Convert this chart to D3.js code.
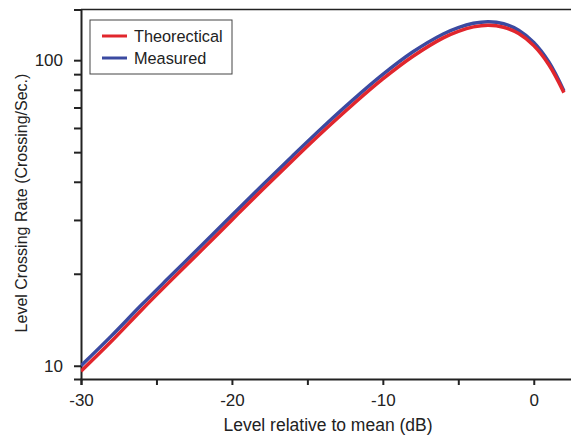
<!DOCTYPE html>
<html>
<head>
<meta charset="utf-8">
<script src="https://cdn.jsdelivr.net/npm/d3@7"></script>
<style>
  body { margin: 0; background: #fff; }
  text { font-family: "Liberation Sans", Arial, sans-serif; fill: #222; }
</style>
</head>
<body>
<div id="chart-area"></div>
<script>
// level relative to mean (dB)
var levels = [-30, -28, -26, -24, -22, -20, -18, -16, -14, -12, -10, -8, -6, -5, -4, -3, -2, -1, 0, 1, 2];
// crossing rates
var theoretical = [9.6, 12.0, 15.2, 19.1, 23.9, 30.0, 37.6, 46.9, 58.2, 71.5, 86.8, 103, 118.3, 124.3, 128.5, 130.1, 128.2, 122.2, 111.6, 96.6, 78.3];
var measured = [10.0, 12.5, 15.8, 19.8, 24.8, 31.1, 38.9, 48.5, 60.2, 74.0, 89.8, 106.5, 121.8, 127.8, 132.0, 133.6, 131.6, 125.3, 114.2, 98.6, 79.3];
var xTicks = [-30, -25, -20, -15, -10, -5, 0];
var yTicks = [10, 20, 30, 40, 50, 60, 70, 80, 90, 100];
var yLabels = [10, 100];
var seriesNames = ["Theorectical", "Measured"];
var seriesColors = ["#e1262d", "#3b4aa1"];

var width = 571, height = 439;
var margin = {top: 9.5, right: -2, bottom: 60, left: 81};
var w = width - margin.left - margin.right;
var h = height - margin.top - margin.bottom;

var svg = d3.select("#chart-area").append("svg")
    .attr("width", width)
    .attr("height", height);
var g = svg.append("g").attr("transform", "translate(" + margin.left + "," + margin.top + ")");

var x = d3.scaleLinear().domain([-30, 2.6]).range([0, w]);
var y = d3.scaleLog().domain([9.05, 146.5]).range([h, 0]);

// top border
g.append("line")
    .attr("x1", 0).attr("x2", w + 5)
    .attr("y1", 0).attr("y2", 0)
    .attr("stroke", "#222").attr("stroke-width", 1.5);

var xAxis = g.append("g")
    .attr("transform", "translate(0," + h + ")")
    .call(d3.axisBottom(x).tickValues(xTicks).tickSize(6).tickPadding(9)
        .tickFormat(function(d) { return d % 10 === 0 ? d : ""; }));
var yAxis = g.append("g")
    .call(d3.axisLeft(y).tickValues(yTicks).tickSize(7).tickPadding(11)
        .tickFormat(function(d) { return yLabels.indexOf(d) >= 0 ? d : ""; }));

[xAxis, yAxis].forEach(function(a) {
  a.select(".domain").attr("stroke", "#222").attr("stroke-width", 2);
  a.selectAll(".tick line").attr("stroke", "#222").attr("stroke-width", 2);
  a.selectAll(".tick text").attr("font-size", 17).attr("fill", "#333")
      .style("font-family", "Liberation Sans, Arial, sans-serif");
});

var line = d3.line()
    .x(function(d) { return x(d[0]); })
    .y(function(d) { return y(d[1]); })
    .curve(d3.curveCatmullRom);

var clip = g.append("clipPath").attr("id", "clip")
    .append("rect").attr("width", w).attr("height", h);

var plot = g.append("g").attr("clip-path", "url(#clip)");
plot.append("path")
    .datum(levels.map(function(l, i) { return [l, measured[i]]; }))
    .attr("d", line)
    .attr("fill", "none")
    .attr("stroke", seriesColors[1])
    .attr("stroke-width", 3.5);
plot.append("path")
    .datum(levels.map(function(l, i) { return [l, theoretical[i]]; }))
    .attr("d", line)
    .attr("fill", "none")
    .attr("stroke", seriesColors[0])
    .attr("stroke-width", 3.5);

// legend
var legend = svg.append("g").attr("transform", "translate(90,20)");
legend.append("rect")
    .attr("width", 142).attr("height", 54)
    .attr("fill", "#fff").attr("stroke", "#444").attr("stroke-width", 1);
seriesNames.forEach(function(name, i) {
  var ly = 16 + i * 22;
  legend.append("line")
      .attr("x1", 12).attr("x2", 37)
      .attr("y1", ly).attr("y2", ly)
      .attr("stroke", seriesColors[i]).attr("stroke-width", 3);
  legend.append("text")
      .attr("x", 44).attr("y", ly + 6)
      .attr("font-size", 16.3)
      .attr("fill", "#333")
      .text(name);
});

svg.append("text")
    .attr("text-anchor", "middle")
    .attr("x", 328).attr("y", 431)
    .attr("font-size", 17.5)
    .attr("fill", "#333")
    .text("Level relative to mean (dB)");
svg.append("text")
    .attr("text-anchor", "middle")
    .attr("transform", "translate(27,203) rotate(-90)")
    .attr("font-size", 16)
    .attr("fill", "#333")
    .text("Level Crossing Rate (Crossing/Sec.)");
</script>
</body>
</html>
